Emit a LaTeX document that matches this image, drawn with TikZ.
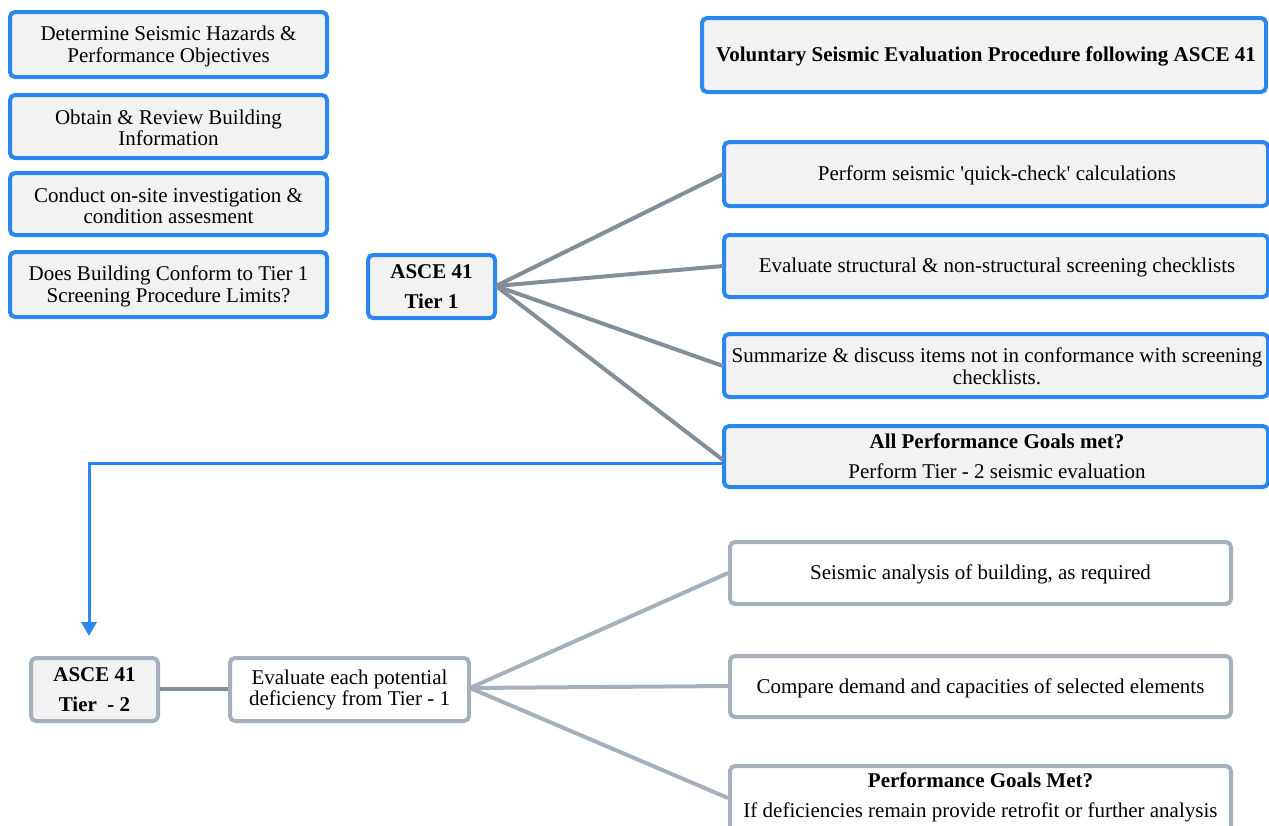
\documentclass[tikz,border=0pt]{standalone}
\usepackage{fontspec}
\setmainfont{Liberation Serif}[Ligatures=TeXOff]
\usetikzlibrary{arrows.meta}
\definecolor{bblue}{RGB}{43,135,240}
\definecolor{bfill}{RGB}{242,242,242}
\definecolor{cgray}{RGB}{132,142,153}
\definecolor{lgray}{RGB}{166,176,188}
\begin{document}
\begin{tikzpicture}[x=1pt,y=-1pt,
  bluebox/.style={draw=bblue,line width=4pt,fill=bfill,rounded corners=5pt},
  graybox/.style={draw=lgray,line width=4pt,fill=white,rounded corners=5pt},
  graybox2/.style={draw=lgray,line width=4pt,fill=bfill,rounded corners=5pt},
  conn/.style={draw=cgray,line width=4pt},
  lbl/.style={font=\fontsize{21}{21.5}\selectfont,align=center,inner sep=0pt},
  lblw/.style={font=\fontsize{21}{30}\selectfont,align=center,inner sep=0pt}]
\useasboundingbox (0,0) rectangle (1269,825);
\clip (0,0) rectangle (1269,825);
% left column
\draw[bluebox] (10,12) rectangle (327,77);
\node[lbl] (a1) at (168.5,46.5) {Determine Seismic Hazards \&\\Performance Objectives};
\draw[bluebox] (10,95) rectangle (327,158);
\node[lbl] (a2) at (168.5,128) {Obtain \& Review Building\\Information};
\draw[bluebox] (10,173) rectangle (327,235);
\node[lbl] (a3) at (168.5,206) {Conduct on-site investigation \&\\condition assesment};
\draw[bluebox] (10,252) rectangle (327,317);
\node[lbl] (a4) at (168.5,286.5) {Does Building Conform to Tier 1\\Screening Procedure Limits?};
% title
\draw[bluebox] (702,18) rectangle (1266,92);
\node[lbl,font=\fontsize{21}{22}\selectfont\bfseries] (title) at (986,56) {Voluntary Seismic Evaluation Procedure following ASCE 41};
% tier 1
\draw[bluebox] (368,255) rectangle (495,318);
\node[lblw,font=\fontsize{21}{30}\selectfont\bfseries] (t1) at (431.5,287) {ASCE 41\\Tier 1};
\coordinate (t1e) at (496,286);
% right tier1 boxes
\draw[bluebox] (724,142) rectangle (1268,206);
\node[lbl] (q1) at (997,175) {Perform seismic 'quick-check' calculations};
\coordinate (q1w) at (723,174);
\draw[bluebox] (724,235) rectangle (1268,297);
\node[lbl] (q2) at (997,267) {Evaluate structural \& non-structural screening checklists};
\coordinate (q2w) at (723,266);
\draw[bluebox] (724,334) rectangle (1268,397);
\node[lbl] (q3) at (997,366) {Summarize \& discuss items not in conformance with screening\\checklists.};
\coordinate (q3w) at (723,366);
\draw[bluebox] (724,426) rectangle (1268,487);
\node[lblw] (q4) at (997,456) {\textbf{All Performance Goals met?}\\Perform Tier - 2 seismic evaluation};
\coordinate (q4w) at (723,460);
\coordinate (q4b) at (723,463);
\draw[conn] (t1e) -- (q1w);
\draw[conn] (t1e) -- (q2w);
\draw[conn] (t1e) -- (q3w);
\draw[conn] (t1e) -- (q4w);
% blue connector
\coordinate (arr) at (89,636);
\draw[draw=bblue,line width=3pt,-{Triangle[length=14pt,width=15pt]}] (q4b) -- (89,463) -- (arr);
% tier 2
\draw[graybox2] (31,658) rectangle (158,721);
\node[lblw,font=\fontsize{21}{30}\selectfont\bfseries] (t2) at (94.5,690) {ASCE 41\\Tier\ \ - 2};
\draw[graybox] (230,658) rectangle (469,721);
\node[lbl] (ev) at (349.5,690) {Evaluate each potential\\deficiency from Tier - 1};
\draw[conn] (160,689) -- (228,689);
\coordinate (eve) at (470,688);
\draw[graybox] (730,542) rectangle (1231,604);
\node[lbl] (r1) at (980.5,574) {Seismic analysis of building, as required};
\draw[graybox] (730,656) rectangle (1231,717);
\node[lbl] (r2) at (980.5,688) {Compare demand and capacities of selected elements};
\draw[graybox] (730,766) rectangle (1231,840);
\node[lblw] (r3) at (980.5,797) {\textbf{Performance Goals Met?}\\If deficiencies remain provide retrofit or further analysis};
\draw[conn,draw=lgray] (eve) -- (728,573);
\draw[conn,draw=lgray] (eve) -- (728,686);
\draw[conn,draw=lgray] (eve) -- (728,798);
\end{tikzpicture}
\end{document}
